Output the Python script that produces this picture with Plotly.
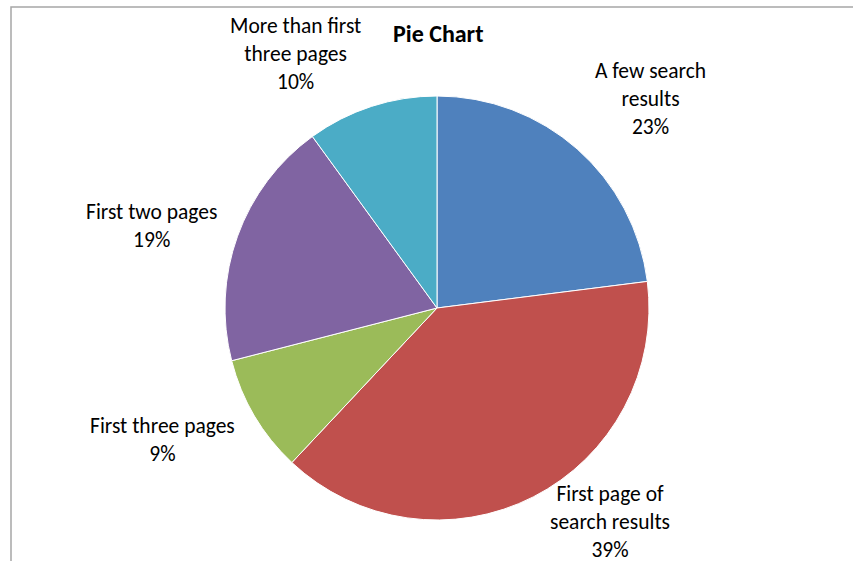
import plotly.graph_objects as go

# Survey: how far users look through search results
categories = [
    "A few search results",
    "First page of search results",
    "First three pages",
    "First two pages",
    "More than first three pages",
]
shares = [23, 39, 9, 19, 10]
colors = ["#4F81BD", "#C0504D", "#9BBB59", "#8064A2", "#4BACC6"]

# Wrapped label text shown around the pie
label_lines = [
    ["A few search", "results"],
    ["First page of", "search results"],
    ["First three pages"],
    ["First two pages"],
    ["More than first", "three pages"],
]
# label centres in page fractions (x from left, y from bottom)
label_pos = [
    (0.763, 0.823),
    (0.715, 0.070),
    (0.190, 0.216),
    (0.178, 0.597),
    (0.346, 0.903),
]

W, H = 853, 561
cx, cy, r = 437, 308, 212

fig = go.Figure(
    go.Pie(
        labels=categories,
        values=shares,
        sort=False,
        direction="clockwise",
        rotation=0,
        marker=dict(colors=colors, line=dict(color="white", width=1)),
        textinfo="none",
        hoverinfo="label+percent",
        domain=dict(
            x=[(cx - r) / W, (cx + r) / W],
            y=[(H - cy - r) / H, (H - cy + r) / H],
        ),
        showlegend=False,
    )
)

font_family = "Calibri, Carlito, Lato, sans-serif"
total = sum(shares)
annotations = []
for lines, v, (x, y) in zip(label_lines, shares, label_pos):
    text = "<br>".join(lines + [f"{round(100 * v / total)}%"])
    annotations.append(
        dict(
            text=text,
            x=x,
            y=y,
            xref="paper",
            yref="paper",
            xanchor="center",
            yanchor="middle",
            showarrow=False,
            align="center",
            font=dict(family=font_family, size=21.5, color="#000000"),
        )
    )

annotations.append(
    dict(
        text="<b>Pie Chart</b>",
        x=438 / W,
        y=1 - 34 / H,
        xref="paper",
        yref="paper",
        xanchor="center",
        yanchor="middle",
        showarrow=False,
        font=dict(family=font_family, size=24, color="#000000"),
    )
)

fig.update_layout(
    width=W,
    height=H,
    margin=dict(l=0, r=0, t=0, b=0),
    paper_bgcolor="white",
    plot_bgcolor="white",
    annotations=annotations,
    shapes=[
        dict(
            type="rect",
            xref="paper",
            yref="paper",
            x0=11 / W,
            x1=1.05,
            y0=-0.05,
            y1=1 - 7 / H,
            line=dict(color="#A6A6A6", width=1.5),
            fillcolor="rgba(0,0,0,0)",
            layer="below",
        )
    ],
)

fig.write_html("out.html")
